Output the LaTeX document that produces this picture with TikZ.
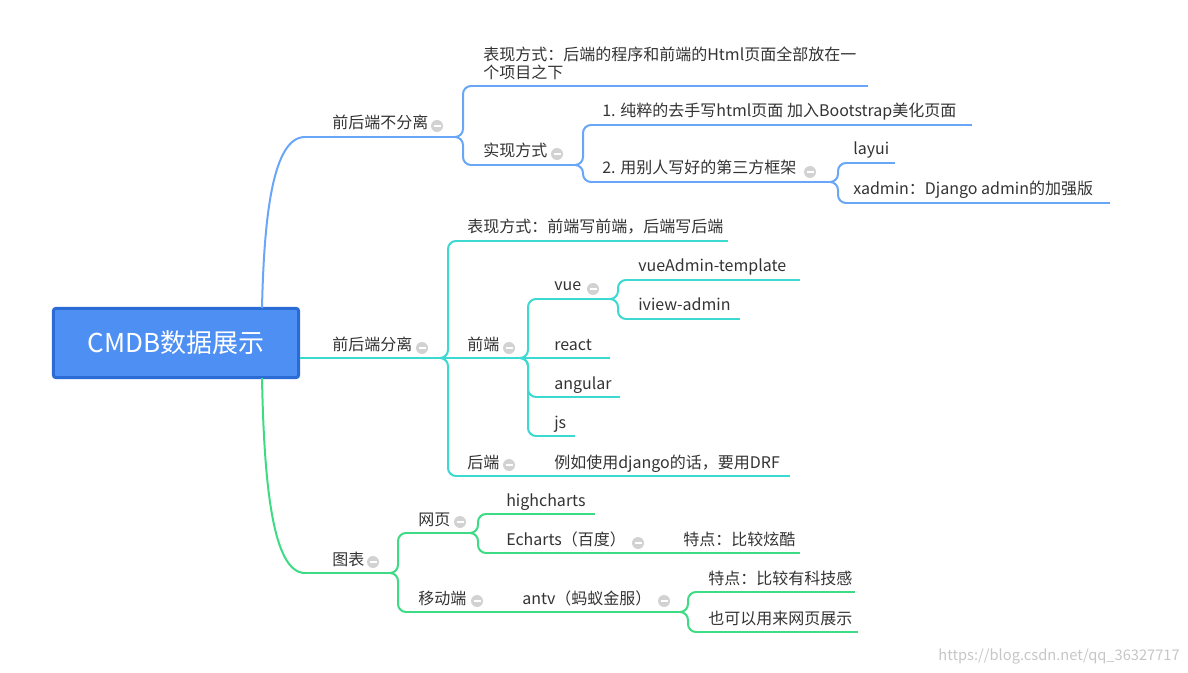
\documentclass[tikz,border=0pt]{standalone}
\usepackage{fontspec}
\setmainfont{Noto Sans CJK SC}
\usetikzlibrary{calc}
\definecolor{cb}{HTML}{6AA6F8}
\definecolor{cc}{HTML}{3CD9D0}
\definecolor{cg}{HTML}{3DDC84}
\definecolor{rootfill}{HTML}{4D8FF2}
\definecolor{rootdraw}{HTML}{2A6BD6}
\definecolor{txt}{HTML}{333333}
\tikzset{lw/.style={line width=1.5pt},
  lbl/.style={anchor=base west,inner sep=0pt,text=txt,font=\fontsize{12}{14}\selectfont}}
\newcommand{\mtopic}[7]{% name color xs xe y textx text
  \coordinate (#1-s) at (#3,#5); \coordinate (#1-e) at (#4,#5);
  \draw[#2,lw] (#1-s) -- (#1-e);
  \node[lbl] (#1) at (#6,#5-8) {#7};}
\newcommand{\conn}[3]{\draw[#1,lw,rounded corners=6pt] (#2-e) -- ($(#2-e)+(8,0)$) |- (#3-s);}
\newcommand{\sconn}[3]{\draw[#1,lw] (#2-e) -- (#3-s);}
\newcommand{\micon}[2]{\fill[gray!35] (#1,#2) circle (6); \draw[white,line width=1pt] (#1-3.5,#2) -- (#1+3.5,#2);}
\begin{document}
\begin{tikzpicture}[x=0.75pt,y=-0.75pt]
\useasboundingbox (0,0) rectangle (1188,673);
\node[draw=rootdraw,fill=rootfill,line width=2.2pt,rounded corners=2pt,minimum width=184pt,minimum height=52pt,text=white,font=\fontsize{19.5}{22}\selectfont] (root) at (176,343) {CMDB数据展示};
\coordinate (rt) at (262,308);
\coordinate (rb) at (262,378);
% blue
\mtopic{p1}{cb}{305}{455}{137}{332}{前后端不分离}
\mtopic{b11}{cb}{471}{868}{86}{483}{}
\node[anchor=north west,inner sep=0pt,text=txt,font=\fontsize{12}{13.5}\selectfont,align=left] (b11t) at (483,47) {表现方式：后端的程序和前端的Html页面全部放在一\\个项目之下};
\mtopic{b12}{cb}{471}{575}{165}{483}{实现方式}
\mtopic{b121}{cb}{591}{972}{125}{602}{1. 纯粹的去手写html页面 加入Bootstrap美化页面}
\mtopic{b122}{cb}{591}{830}{182}{602}{2. 用别人写好的第三方框架}
\mtopic{b1221}{cb}{846}{895}{163}{853}{layui}
\mtopic{b1222}{cb}{846}{1110}{203}{853}{xadmin：Django admin的加强版}
\draw[cb,lw] (rt) .. controls (264,220) and (272,137) .. (p1-s);
\conn{cb}{p1}{b11}\conn{cb}{p1}{b12}
\conn{cb}{b12}{b121}\conn{cb}{b12}{b122}
\conn{cb}{b122}{b1221}\conn{cb}{b122}{b1222}
% cyan
\mtopic{p2}{cc}{300}{440}{358}{332}{前后端分离}
\mtopic{c1}{cc}{456}{728}{241}{467}{表现方式：前端写前端，后端写后端}
\mtopic{c2}{cc}{456}{520}{358}{467}{前端}
\mtopic{c3}{cc}{456}{520}{476}{467}{后端}
\mtopic{c21}{cc}{536}{610}{299}{554}{vue}
\mtopic{c22}{cc}{536}{610}{358}{554}{react}
\mtopic{c23}{cc}{536}{620}{397}{554}{angular}
\mtopic{c24}{cc}{536}{575}{436}{554}{js}
\mtopic{c211}{cc}{626}{800}{280}{638}{vueAdmin-template}
\mtopic{c212}{cc}{626}{740}{319}{638}{iview-admin}
\mtopic{c31}{cc}{536}{790}{476}{554}{例如使用django的话，要用DRF}
\draw[cc,lw] (root.east |- p2-s) -- (p2-s);
\conn{cc}{p2}{c1}\sconn{cc}{p2}{c2}\conn{cc}{p2}{c3}
\conn{cc}{c2}{c21}\sconn{cc}{c2}{c22}\conn{cc}{c2}{c23}\conn{cc}{c2}{c24}
\conn{cc}{c21}{c211}\conn{cc}{c21}{c212}
\sconn{cc}{c3}{c31}
% green
\mtopic{p3}{cg}{305}{390}{573}{332}{图表}
\mtopic{g1}{cg}{406}{470}{533}{418}{网页}
\mtopic{g2}{cg}{406}{495}{612}{418}{移动端}
\mtopic{g11}{cg}{486}{595}{514}{506}{highcharts}
\mtopic{g12}{cg}{486}{665}{553}{506}{Echarts（百度）}
\mtopic{g121}{cg}{681}{800}{553}{683}{特点：比较炫酷}
\mtopic{g21}{cg}{511}{680}{612}{522}{antv（蚂蚁金服）}
\mtopic{g211}{cg}{696}{855}{592}{708}{特点：比较有科技感}
\mtopic{g212}{cg}{696}{858}{632}{708}{也可以用来网页展示}
\draw[cg,lw] (rb) .. controls (264,480) and (272,573) .. (p3-s);
\conn{cg}{p3}{g1}\conn{cg}{p3}{g2}
\conn{cg}{g1}{g11}\conn{cg}{g1}{g12}
\sconn{cg}{g12}{g121}
\sconn{cg}{g2}{g21}
\conn{cg}{g21}{g211}\conn{cg}{g21}{g212}
% icons
\micon{437}{126}\micon{557}{154}\micon{810}{172}
\micon{422}{348}\micon{509}{348}\micon{509}{465}\micon{593}{289}
\micon{373}{562}\micon{460}{522}\micon{477}{601}\micon{638}{543}\micon{664}{601}
\node[anchor=base east,inner sep=0pt,text=gray!45,font=\fontsize{11}{13}\selectfont] (wm) at (1180,660) {https://blog.csdn.net/qq\_36327717};
\end{tikzpicture}
\end{document}
